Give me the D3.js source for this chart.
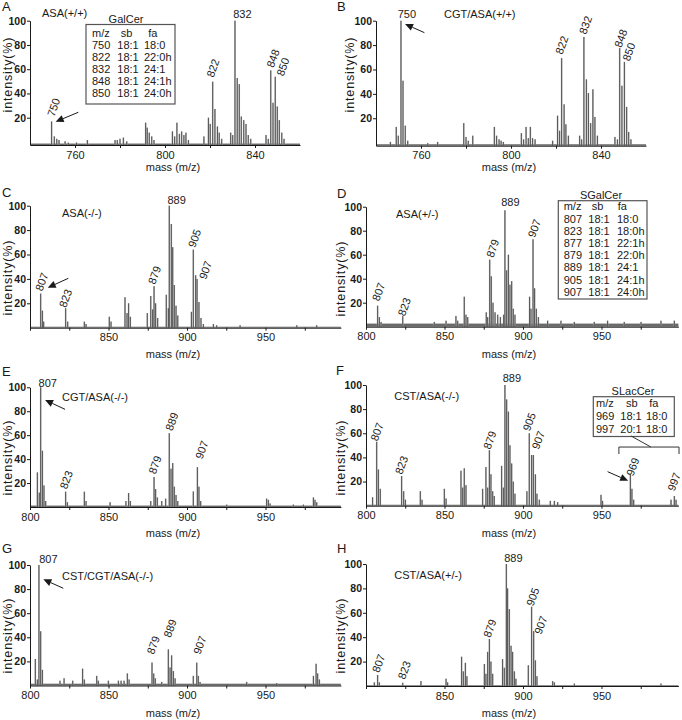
<!DOCTYPE html>
<html><head><meta charset="utf-8">
<script src="https://cdn.jsdelivr.net/npm/d3@7/dist/d3.min.js"></script>
<style>
body{margin:0;background:#fff;}
svg{display:block;font-family:"Liberation Sans",Arial,Helvetica,sans-serif;}
</style></head><body>
<svg id="c" width="682" height="720"></svg>
<script>
// ---------- DATA (m/z, intensity %) ----------
const peaksA = [[749.6,16.9],[750.8,4.6],[751.9,2.6],[752.9,1.6],[755.6,0.5],[757.0,-0.5],[760.7,-0.5],[765.5,1.6],[777.8,1.6],[778.8,1.6],[780.0,2.6],[781.5,3.6],[783.0,0.5],[791.4,15.9],[792.1,11.8],[793.0,7.7],[794.1,4.6],[795.1,1.6],[803.3,8.7],[804.3,4.6],[805.3,15.9],[806.4,6.7],[807.4,8.7],[808.4,5.7],[809.3,7.7],[810.4,1.6],[817.3,4.6],[819.3,20],[820.1,14.9],[821.2,49.7],[822.2,27.2],[823.3,12.8],[824.1,7.7],[825.2,2.6],[829.2,7.7],[830.1,5.7],[831.1,100],[832.1,52.8],[833.0,47.7],[833.9,21],[835.0,18],[836.0,14.9],[837.0,5.7],[838.1,2.6],[844.9,5.7],[845.9,2.6],[847.0,59],[848.0,32.3],[849.0,53.8],[849.9,29.2],[850.8,18],[851.9,7.7],[852.9,2.6]];
const peaksB = [[746.4,0.6],[749.0,12.9],[749.9,5.7],[751.1,100],[752.0,50.8],[753.0,13.9],[754.1,1.6],[763.0,-0.4],[767.4,0.6],[779.0,16],[780.0,4.7],[781.0,1.6],[783.0,5.7],[792.6,12.9],[793.6,5.7],[794.7,2.7],[795.6,1.6],[796.6,0.6],[804.6,7.8],[805.6,2.7],[806.7,12.9],[807.7,3.7],[808.6,12.9],[809.6,3.7],[810.7,2.7],[818.5,1.6],[820.7,22.1],[821.6,9.8],[822.5,69.3],[823.6,31.4],[824.4,15],[825.5,5.7],[830.5,5.7],[831.4,2.7],[832.4,86.7],[833.5,51.9],[834.4,40.6],[835.4,16],[836.4,43.7],[837.3,21.1],[838.4,5.7],[846.2,4.7],[847.3,2.7],[848.3,77.5],[849.3,46.7],[850.4,66.2],[851.4,29.3],[852.3,8.8],[853.3,2.7]];
const peaksC = [[806.8,28],[807.9,14],[808.7,5],[822.7,16],[824.0,5],[834.6,5],[835.7,3],[850.5,9],[851.6,5],[860.5,25],[861.8,12],[862.8,20],[863.9,9],[874.7,12],[876.9,26],[878.1,15],[879.0,34],[880.0,20],[881.3,8],[886.8,27],[888.1,16],[888.7,100],[890.0,85],[890.9,66],[891.9,35],[893.0,18],[894.1,10],[902.8,13],[904.0,64],[905.5,43],[906.4,40],[907.6,21],[908.9,8],[910.4,3],[916.8,3],[918.9,2],[933.8,2],[969.9,2],[982.6,2]];
const peaksD = [[807.4,17.5],[808.5,8],[809.6,4],[823.4,8.8],[843.5,4],[851.0,5],[857.3,9],[858.4,5],[862.6,25],[863.7,10],[864.8,8],[876.6,12],[877.5,8],[878.8,55.9],[879.8,42],[880.9,20],[882.2,12],[883.9,10],[885.6,8],[887.7,10],[888.5,97],[889.6,47],[890.7,60],[891.7,35],[892.8,38],[893.8,15],[894.9,10],[904.2,25],[905.1,15],[906.4,72.9],[907.4,32],[908.5,15],[909.8,8],[915.7,5],[924.2,5],[932.7,4],[945.4,4],[953.9,5],[964.5,4],[975.2,4],[987.9,5],[996.4,5]];
const peaksE = [[804.7,28.9],[805.9,12],[806.8,100],[807.9,47],[808.9,18],[810.0,5],[822.7,12.8],[823.8,4],[834.6,12.8],[835.7,5],[851.0,4],[861.1,5],[862.8,11.7],[863.9,5],[876.9,5],[879.0,25],[880.0,15],[881.1,8],[883.9,5],[886.4,7],[888.7,61.7],[889.8,32],[890.9,36.7],[891.9,17],[893.0,10],[894.1,5],[904.0,13],[906.6,33.3],[907.6,17],[908.7,5],[925.3,2],[950.7,7],[951.8,6],[952.9,3],[967.7,2],[974.1,2],[980.5,8],[981.5,6],[982.6,4]];
const peaksF = [[804.2,7],[806.8,53],[807.9,30],[809.1,14],[822.7,24.6],[824.0,12],[825.1,5],[834.6,12],[835.7,5],[849.9,14],[851.0,6],[860.5,29],[861.6,15],[862.6,31],[863.7,17],[874.3,14],[876.4,32],[877.5,15],[878.6,46],[879.6,26],[880.7,12],[881.7,8],[886.4,33],[887.5,15],[888.5,100],[889.6,88],[890.7,78],[891.7,50],[892.8,35],[893.8,20],[894.9,10],[902.5,12],[904.0,60],[905.5,42],[906.6,42],[907.9,26],[908.9,10],[910.4,5],[917.4,4],[920.0,4],[922.1,3],[949.7,9],[950.7,4],[968.4,26],[969.4,14],[970.5,5],[994.3,5],[996.4,8],[997.5,5]];
const peaksG = [[803.4,22],[804.7,5],[805.7,100],[806.8,45],[807.9,13],[819.1,4],[821.7,6],[827.2,4],[833.5,14],[834.6,5],[842.5,8],[843.5,4],[849.9,4],[856.3,4],[858.0,4],[859.9,4],[862.0,10],[863.1,5],[877.7,19],[878.8,10],[879.8,6],[883.9,3],[888.1,30],[889.2,15],[890.2,25],[891.3,12],[892.4,6],[904.0,8],[906.2,19],[907.2,8],[908.3,3],[938.0,3],[957.1,2],[980.5,8],[982.2,18],[983.2,10],[984.3,5]];
const peaksH = [[805.3,3],[807.4,9],[808.5,3],[823.4,2.7],[835.0,4],[851.0,6],[852.0,3],[860.9,24],[862.0,12],[863.3,19],[864.3,8],[875.4,18],[876.4,10],[877.5,28],[878.6,38.5],[879.6,20],[880.7,10],[887.0,22],[888.1,15],[889.4,100],[890.2,80],[891.3,63],[892.4,33],[893.4,28],[894.5,12],[895.5,6],[903.4,17],[905.5,65],[906.8,45],[907.9,21],[908.9,8],[918.9,4],[920.0,3],[932.7,2],[987.9,2]];

// peak labels: [text, m/z of label centre, intensity at label bottom, rotated?]
const labelsA = [["750",750.5,20.3,1],["822",821.3,52.7,1],["832",834.4,102,0],["848",848.0,60.7,1],["850",852.4,53.8,1]];
const labelsB = [["750",753.7,102,0],["822",822.6,71.9,1],["832",833.1,88.3,1],["848",848.8,77.4,1],["850",852.4,66.4,1]];
const labelsC = [["807",807.5,29.5,1],["823",822.6,15.9,1],["879",879.3,35,1],["889",893.4,101.4,0],["905",904.8,65.1,1],["907",911.7,39.1,1]];
const labelsD = [["807",808.0,20.8,1],["823",824.4,8.3,1],["879",880.7,57,1],["889",892.0,100.6,0],["907",907.2,73.7,1]];
const labelsE = [["807",811.3,100.3,0],["823",823.1,14.4,1],["879",879.6,26.9,1],["889",890.3,63,1],["907",909.4,39.4,1]];
const labelsF = [["807",807.0,53,1],["823",822.6,25.4,1],["879",878.9,46.1,1],["889",892.9,102.7,0],["905",904.0,61.3,1],["907",909.7,46.1,1],["969",969.9,24,1],["997",996.2,11.6,1]];
const labelsG = [["807",811.7,101.4,0],["879",878.5,25.4,1],["889",889.2,39.3,1],["907",908.1,25.4,1]];
const labelsH = [["807",808.0,10.4,1],["823",824.4,4.9,1],["879",878.9,39.1,1],["889",893.9,101.9,0],["905",906.2,65,1],["907",911.3,41.8,1]];

// arrows: [tail m/z, tail %, tip m/z, tip %]
const arrowA = [761.5,24.5,751.4,16.7];
const arrowB = [761.5,90.2,752.9,97.3];
const arrowC = [824.4,40.5,811.3,32.8];
const arrowE = [822.3,81.6,809.6,89.4];
const arrowF = [953.9,28.2,967.0,20.7];
const arrowG = [821.2,80.7,808.5,88.1];

// axis ticks
const ticksAB = [760,780,800,820,840];
const tickLabelsAB = [760,800,840];
const ticksWide = [800,825,850,875,900,925,950,975];
const tickLabelsFull = [800,850,900,950];
const tickLabelsNo800 = [850,900,950];
const yTicks = [20,40,60,80,100];

// tables
const tableHeader = ["m/z","sb","fa"];
const galcerRows = [["750","18:1","18:0"],["822","18:1","22:0h"],["832","18:1","24:1"],["848","18:1","24:1h"],["850","18:1","24:0h"]];
const sgalcerRows = [["807","18:1","18:0"],["823","18:1","18:0h"],["877","18:1","22:1h"],["879","18:1","22:0h"],["889","18:1","24:1"],["905","18:1","24:1h"],["907","18:1","24:0h"]];
const slaccerRows = [["969","18:1","18:0"],["997","20:1","18:0"]];
// SLacCer bracket: [m/z left, m/z right, % level, % tick end], connector [m/z,%] -> [m/z,%]
const bracketF = [961.1,999.4,48.6,42.8];
const bracketLinkF = [968.8,57.8,981.5,48.6];

// ---------- LAYOUT ----------
const panels = [
 {L:"A",lx:2,ly:10.5,peaks:peaksA,labels:labelsA,arrow:arrowA,dom:[740,860],xr:[30,300],axisY:145,y100:20.7,ymin:-2.5,noise:-1.3,ticks:ticksAB,tl:tickLabelsAB,title:"ASA(+/+)",tx:42,ty:16.7,ytx:12,yty:75,xtx:173,xty:171},
 {L:"B",lx:337,ly:10.5,peaks:peaksB,labels:labelsB,arrow:arrowB,dom:[740,860],xr:[376,646],axisY:145.7,y100:20.7,ymin:-2.5,noise:-1.3,ticks:ticksAB,tl:tickLabelsAB,title:"CGT/ASA(+/+)",tx:444,ty:18.3,ytx:354,yty:75,xtx:509,xty:171},
 {L:"C",lx:2,ly:197,peaks:peaksC,labels:labelsC,arrow:arrowC,dom:[800,998],xr:[30,340.9],axisY:327.7,y100:205.7,ymin:0,noise:0.8,ticks:ticksWide,tl:tickLabelsNo800,title:"ASA(-/-)",tx:62,ty:217.3,ytx:12,yty:278,xtx:173,xty:357.5},
 {L:"D",lx:337,ly:197.5,peaks:peaksD,labels:labelsD,arrow:null,dom:[800,999],xr:[366,678.4],axisY:326.7,y100:206.7,ymin:0,noise:2.6,ticks:ticksWide,tl:tickLabelsFull,title:"ASA(+/-)",tx:396,ty:218.3,ytx:345,yty:279,xtx:509,xty:357.5},
 {L:"E",lx:2,ly:376,peaks:peaksE,labels:labelsE,arrow:arrowE,dom:[800,998],xr:[30,340.9],axisY:507,y100:387.3,ymin:0,noise:1.2,ticks:ticksWide,tl:tickLabelsFull,title:"CGT/ASA(-/-)",tx:62,ty:400.7,ytx:12,yty:458,xtx:173,xty:536.5},
 {L:"F",lx:336,ly:375,peaks:peaksF,labels:labelsF,arrow:arrowF,dom:[800,999],xr:[366,678.4],axisY:505.7,y100:385,ymin:0,noise:0.8,ticks:ticksWide,tl:tickLabelsFull,title:"CST/ASA(-/-)",tx:394.3,ty:400,ytx:345,yty:458,xtx:509,xty:536.5},
 {L:"G",lx:2,ly:552.7,peaks:peaksG,labels:labelsG,arrow:arrowG,dom:[800,998],xr:[30,340.9],axisY:685.5,y100:565,ymin:0,noise:1.5,ticks:ticksWide,tl:tickLabelsFull,title:"CST/CGT/ASA(-/-)",tx:62,ty:580,ytx:12,yty:636,xtx:173,xty:716.5},
 {L:"H",lx:337,ly:553,peaks:peaksH,labels:labelsH,arrow:null,dom:[800,999],xr:[366,678.4],axisY:686,y100:564,ymin:0,noise:0.6,ticks:ticksWide,tl:tickLabelsNo800,title:"CST/ASA(+/-)",tx:394.3,ty:579,ytx:345,yty:636,xtx:509,xty:716.5}
];

const svg = d3.select("#c");
const INK = "#1a1a1a";
const scales = {};

panels.forEach(p => {
  const x = d3.scaleLinear().domain(p.dom).range(p.xr);
  const y = d3.scaleLinear().domain([p.ymin,100]).range([p.axisY,p.y100]);
  scales[p.L] = {x,y};
  const g = svg.append("g");

  // baseline noise band
  g.append("rect").attr("x",p.xr[0]).attr("width",p.xr[1]-p.xr[0])
    .attr("y",y(p.noise)).attr("height",Math.max(0,p.axisY-y(p.noise))).attr("fill","#6a6a6a");

  // peaks: grey halo + dark core
  g.selectAll(null).data(p.peaks).enter().append("line")
    .attr("x1",d=>x(d[0])).attr("x2",d=>x(d[0])).attr("y1",p.axisY).attr("y2",d=>y(d[1]))
    .attr("stroke","#b4b4b4").attr("stroke-width",1.6);
  g.selectAll(null).data(p.peaks).enter().append("line")
    .attr("x1",d=>x(d[0])).attr("x2",d=>x(d[0])).attr("y1",p.axisY).attr("y2",d=>y(d[1]))
    .attr("stroke","#3a3a3a").attr("stroke-width",0.8);

  // x axis
  const xa = d3.axisBottom(x).tickValues(p.ticks).tickSize(3).tickSizeOuter(0).tickPadding(3)
    .tickFormat(d => p.tl.includes(d) ? String(d) : "");
  const gx = g.append("g").attr("transform",`translate(0,${p.axisY})`).call(xa);
  gx.selectAll("path,line").attr("stroke",INK);
  gx.selectAll("text").attr("font-size",11).attr("font-family",null).attr("fill",INK);

  // y axis
  const ya = d3.axisLeft(y).tickValues(yTicks).tickSize(3).tickSizeOuter(0).tickPadding(1);
  const gy = g.append("g").attr("transform",`translate(${p.xr[0]},0)`).call(ya);
  gy.selectAll("path,line").attr("stroke",INK);
  gy.selectAll("text").attr("font-size",10.5).attr("font-weight","bold").attr("font-family",null).attr("fill",INK);

  // axis titles
  g.append("text").attr("x",p.xtx).attr("y",p.xty).attr("text-anchor","middle")
    .attr("font-size",11).attr("fill",INK).text("mass (m/z)");
  g.append("text").attr("transform",`translate(${p.ytx},${p.yty}) rotate(-90)`).attr("text-anchor","middle")
    .attr("font-size",12.5).attr("fill",INK).attr("textLength",75).attr("lengthAdjust","spacing").text("intensity(%)");

  // panel letter and sample title
  g.append("text").attr("x",p.lx).attr("y",p.ly).attr("font-size",13).attr("fill",INK).text(p.L);
  g.append("text").attr("x",p.tx).attr("y",p.ty).attr("font-size",11).attr("fill",INK).text(p.title);

  // peak labels
  p.labels.forEach(l => {
    const cx = x(l[1]), by = y(l[2]);
    if (l[3]) {
      g.append("text").attr("transform",`translate(${cx+0.5},${by}) rotate(-70)`)
        .attr("font-size",11).attr("fill",INK).text(l[0]);
    } else {
      g.append("text").attr("x",cx).attr("y",by).attr("text-anchor","middle")
        .attr("font-size",11).attr("fill",INK).text(l[0]);
    }
  });

  // arrow
  if (p.arrow) {
    const x1 = x(p.arrow[0]), y1 = y(p.arrow[1]), x2 = x(p.arrow[2]), y2 = y(p.arrow[3]);
    const ang = Math.atan2(y2-y1, x2-x1), hl = 8, hw = 3.6;
    const bx = x2 - hl*Math.cos(ang), by2 = y2 - hl*Math.sin(ang);
    g.append("line").attr("x1",x1).attr("y1",y1).attr("x2",bx).attr("y2",by2).attr("stroke",INK).attr("stroke-width",1);
    const px = -Math.sin(ang)*hw, py = Math.cos(ang)*hw;
    g.append("path").attr("d",`M${x2},${y2}L${bx+px},${by2+py}L${bx-px},${by2-py}Z`).attr("fill",INK);
  }
});

// ---------- tables ----------
function drawTable(opt) {
  const g = svg.append("g").attr("font-size",11).attr("fill",INK);
  g.append("text").attr("x",opt.titleX).attr("y",opt.titleY).attr("text-anchor","middle").text(opt.title);
  g.append("rect").attr("x",opt.box[0]).attr("y",opt.box[1]).attr("width",opt.box[2]-opt.box[0])
    .attr("height",opt.box[3]-opt.box[1]).attr("fill","none").attr("stroke","#555").attr("stroke-width",1.2);
  tableHeader.forEach((h,i) => g.append("text").attr("x",opt.hx[i]).attr("y",opt.y0).text(h));
  opt.rows.forEach((r,j) => r.forEach((c,i) =>
    g.append("text").attr("x",opt.cx[i]).attr("y",opt.y0+(j+1)*opt.dy).text(c)));
}
drawTable({title:"GalCer",titleX:126,titleY:23,box:[86,24.5,175,104],hx:[92,120.7,148.3],cx:[92,117.3,144],y0:36.8,dy:12.1,rows:galcerRows});
drawTable({title:"SGalCer",titleX:601,titleY:199,box:[558.3,200.7,647,299],hx:[563.7,591.7,617.7],cx:[563.7,588.3,617],y0:210.3,dy:12.2,rows:sgalcerRows});
drawTable({title:"SLacCer",titleX:633,titleY:394.5,box:[593.3,396.7,674.3,436.5],hx:[596,626,649.3],cx:[596,620.3,646],y0:407,dy:13,rows:slaccerRows});

// SLacCer bracket in panel F
(function(){
  const {x,y} = scales.F;
  const g = svg.append("g").attr("stroke","#333").attr("stroke-width",1).attr("fill","none");
  const xl = x(bracketF[0]), xr = x(bracketF[1]), yl = y(bracketF[2]), yt = y(bracketF[3]);
  g.append("path").attr("d",`M${xl},${yt}V${yl}H${xr}V${yt}`);
  g.append("line").attr("x1",x(bracketLinkF[0])).attr("y1",y(bracketLinkF[1]))
    .attr("x2",x(bracketLinkF[2])).attr("y2",y(bracketLinkF[3]));
})();
</script>
</body></html>
